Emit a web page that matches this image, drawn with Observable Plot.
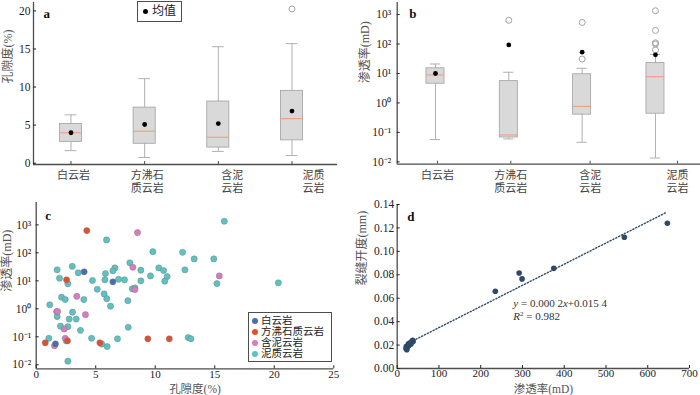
<!DOCTYPE html>
<html><head><meta charset="utf-8">
<script src="https://cdn.jsdelivr.net/npm/d3@7"></script>
<script src="https://cdn.jsdelivr.net/npm/@observablehq/plot@0.6"></script>
<style>
body{margin:0;background:#fff;}
#root{position:relative;width:700px;height:395px;overflow:hidden;font-family:"Liberation Serif","Noto Sans CJK SC",serif;color:#222;}
#root svg text{font-family:"Liberation Serif","Noto Sans CJK SC",serif;}
.lg{position:absolute;border:1px solid #4d4d4d;background:#fff;font-size:10.5px;line-height:11px;box-sizing:border-box;}
.lg .row{display:flex;align-items:center;height:11px;white-space:nowrap;}
.lg .dot{display:inline-block;width:6px;height:6px;border-radius:50%;margin-right:3px;}
</style></head><body><div id="root"></div>
<script>
// ---------- data ----------
const rockTypes = ["白云岩","方沸石质云岩","含泥云岩","泥质云岩"];
const rockTickLabels = ["白云岩","方沸石\n质云岩","含泥\n云岩","泥质\n云岩"];

// panel a: porosity box plot (%)
const porLow    = [1.65, 0.75, 1.55, 1.0];
const porQ1     = [2.8, 2.55, 2.05, 3.0];
const porMedian = [4.0, 4.2, 3.4, 5.85];
const porQ3     = [5.15, 7.3, 8.1, 9.5];
const porHigh   = [6.35, 11.1, 15.3, 15.7];
const porMean   = [4.0, 5.08, 5.2, 6.85];
const porOutType = ["泥质云岩"];
const porOutVal  = [20.25];
const porTicks = [0, 5, 10, 15, 20];

// panel b: permeability box plot (mD)
const permLow    = [0.057, 0.06, 0.046, 0.0135];
const permQ1     = [4.5, 0.067, 0.40, 0.43];
const permMedian = [8.9, 0.082, 0.76, 7.8];
const permQ3     = [15, 5.5, 9.4, 22.5];
const permHigh   = [21, 11, 15, 44];
const permMean   = [10, 93, 53, 43];
const permOutType = ["方沸石质云岩","含泥云岩","含泥云岩","泥质云岩","泥质云岩","泥质云岩","泥质云岩","泥质云岩"];
const permOutVal  = [640, 540, 31, 1350, 290, 110, 100, 63];
const logTicks = [0.01, 0.1, 1, 10, 100, 1000];

// panel c: porosity vs permeability scatter
const dolPor = [4.03, 6.44, 1.62];
const dolPerm = [21, 9.2, 0.056];
const analPor = [4.25, 2.55, 0.76, 2.63, 5.35, 9.38, 11.18];
const analPerm = [625, 10.9, 0.061, 0.072, 0.061, 0.085, 0.085];
const mudPor = [8.51, 8.12, 15.38, 3.41, 8.29, 1.72, 1.80, 4.14, 2.35, 1.54, 2.44];
const mudPerm = [530, 30.6, 15, 2.8, 4.9, 0.8, 0.8, 0.62, 0.19, 0.048, 0.089];
const argPor = [15.8, 5.91, 9.80, 12.3, 13.27, 14.92, 1.76, 3.03, 3.53, 1.96, 2.66, 4.73, 5.82, 6.61, 6.44, 6.92, 7.42, 7.87, 5.77, 5.13, 8.79, 10.3, 10.7, 12.49, 9.6, 11.0, 8.79, 10.8, 15.18, 8.07, 8.29, 20.34, 1.14, 2.13, 2.44, 4.0, 5.71, 5.93, 6.24, 7.7, 1.76, 3.05, 2.77, 3.36, 2.04, 2.66, 3.72, 7.73, 1.06, 2.52, 4.65, 5.51, 5.96, 6.83, 12.77, 13.0, 2.66];
const argPerm = [1350, 290, 110, 105, 61, 61, 24.7, 33, 19.4, 12.4, 7.8, 10.3, 18.2, 29, 22.8, 11.4, 10.9, 44, 10.9, 5.0, 24, 29, 23.4, 24.7, 15, 14.2, 10, 9.7, 8, 5.2, 5.6, 8.5, 1.4, 2.6, 2.15, 2.15, 3.4, 2.3, 1.24, 1.95, 0.53, 0.76, 0.43, 0.43, 0.24, 0.23, 0.17, 0.22, 0.089, 0.072, 0.089, 0.055, 0.045, 0.085, 0.094, 0.085, 0.0135];
const porTicksC = [0, 5, 10, 15, 20, 25];

// panel d: permeability vs fracture aperture
const fracPerm = [21, 22, 23, 24, 26, 27, 29, 31, 33, 35, 37, 38, 235, 292, 299, 375, 544, 647];
const fracAperture = [0.017, 0.019, 0.016, 0.018, 0.019, 0.021, 0.020, 0.022, 0.021, 0.023, 0.024, 0.023, 0.066, 0.0815, 0.0765, 0.0855, 0.112, 0.124];
const trendPerm = [38, 645];
const trendAperture = [0.0237, 0.1333];
const eqText = "y = 0.000 2x+0.015 4";
const r2Text = "R² = 0.982";
const eqPos = [278, 0.0552];
const r2Pos = [278, 0.0442];
const permTicksD = [0, 100, 200, 300, 400, 500, 600, 700];
const apTicksD = [0, 0.02, 0.04, 0.06, 0.08, 0.10, 0.12, 0.14];

// ---------- styles ----------
const FONT = '"Liberation Serif","Noto Sans CJK SC",serif';
const AXIS = "#4d4d4d";
const TXT = "#222";
const LABEL = "#555";
const colDol = "#4a6db0", colAnal = "#e0502c", colMud = "#d77cc0", colArg = "#5cc3c3";
const labelDxA = [2.5, 2.5, 14, 21.5];
const labelDxB = [2, 2, 8, 22];
const style = `font-family:${FONT};font-size:11px;color:${TXT};background:transparent;overflow:visible;`;

const root = document.getElementById("root");
function mount(svg, left, top) {
  svg.style.position = "absolute";
  svg.style.left = left + "px";
  svg.style.top = top + "px";
  root.appendChild(svg);
}
const sup = {"-": "⁻", "0": "⁰", "1": "¹", "2": "²", "3": "³"};
const powFmt = d => "10" + String(Math.round(Math.log10(d))).split("").map(c => sup[c]).join("");

function boxMarks(table, outs, hw, cap) {
  return [
    Plot.ruleX(table, {x: "i", y1: "low", y2: "q1", stroke: "#b0b0b0"}),
    Plot.ruleX(table, {x: "i", y1: "q3", y2: "high", stroke: "#b0b0b0"}),
    Plot.ruleY(table, {y: "low", x1: d => d.i - cap, x2: d => d.i + cap, stroke: "#b0b0b0"}),
    Plot.ruleY(table, {y: "high", x1: d => d.i - cap, x2: d => d.i + cap, stroke: "#b0b0b0"}),
    Plot.rect(table, {x1: d => d.i - hw, x2: d => d.i + hw, y1: "q1", y2: "q3", fill: "#d9d9d9", stroke: "#a0a0a0", strokeWidth: 0.8}),
    Plot.ruleY(table, {y: "med", x1: d => d.i - hw, x2: d => d.i + hw, stroke: "#f2a08a", strokeWidth: 1.2}),
    Plot.dot(outs, {x: "i", y: "v", r: 3, stroke: "#9a9a9a", fill: "none", strokeWidth: 0.9}),
    Plot.dot(table, {x: "i", y: "mean", r: 2.4, fill: "#000"})
  ];
}

// ---------- panel a ----------
const boxA = rockTypes.map((t, i) => ({i, low: porLow[i], q1: porQ1[i], med: porMedian[i], q3: porQ3[i], high: porHigh[i], mean: porMean[i]}));
const outA = porOutType.map((t, k) => ({i: rockTypes.indexOf(t), v: porOutVal[k]}));
const xDomA = [-0.509, 3.618];
const yDomA = [-0.17, 21.1];
const pa = Plot.plot({
  width: 345, height: 195, marginLeft: 33, marginRight: 8, marginTop: 2, marginBottom: 31,
  style,
  x: {domain: xDomA, axis: null},
  y: {domain: yDomA, axis: null},
  marks: [
    ...boxMarks(boxA, outA, 0.15, 0.08),
    Plot.ruleY([yDomA[0]], {stroke: AXIS, strokeWidth: 1.3}),
    Plot.ruleX([xDomA[0]], {stroke: AXIS, strokeWidth: 1.3}),
    Plot.axisY({ticks: porTicks, tickSize: -3, tickPadding: 6, label: null, color: TXT, fontSize: 11.5}),
    Plot.axisX({ticks: [0, 1, 2, 3], tickSize: -3, tickFormat: () => "", label: null, color: AXIS}),
    ...rockTickLabels.map((lab, i) => Plot.text([lab], {x: () => i, text: d => d, frameAnchor: "bottom", dy: 6, dx: labelDxA[i], lineAnchor: "top", lineHeight: 1.15, fill: "#444", fontSize: 11})),
    Plot.text(["孔隙度(%)"], {text: d => d, frameAnchor: "left", rotate: -90, dx: -25, fontSize: 12, fill: LABEL}),
    Plot.text(["a"], {text: d => d, frameAnchor: "top-left", dx: 10, dy: 6, fontWeight: "bold", fontSize: 13, fill: "#111"})
  ]
});
mount(pa, 0, 0);

// ---------- panel b ----------
const boxB = rockTypes.map((t, i) => ({i, low: permLow[i], q1: permQ1[i], med: permMedian[i], q3: permQ3[i], high: permHigh[i], mean: permMean[i]}));
const outB = permOutType.map((t, k) => ({i: rockTypes.indexOf(t), v: permOutVal[k]}));
const xDomB = [-0.522, 3.614];
const yDomB = [10 ** -2.08, 10 ** 3.41];
const pb = Plot.plot({
  width: 350, height: 195, marginLeft: 46.7, marginRight: 0, marginTop: 2, marginBottom: 31.3,
  style,
  x: {domain: xDomB, axis: null},
  y: {type: "log", domain: yDomB, axis: null},
  marks: [
    ...boxMarks(boxB, outB, 0.123, 0.07),
    Plot.ruleY([yDomB[0]], {stroke: AXIS, strokeWidth: 1.3}),
    Plot.ruleX([xDomB[0]], {stroke: AXIS, strokeWidth: 1.3}),
    Plot.axisY({ticks: logTicks, tickFormat: powFmt, tickSize: -3, tickPadding: 9, label: null, color: TXT, fontSize: 11.5}),
    ...rockTypes.map((t, i) => Plot.axisX({ticks: [i], tickSize: -3, tickFormat: () => "", label: null, dx: labelDxB[i], color: AXIS})),
    ...rockTickLabels.map((lab, i) => Plot.text([lab], {x: () => i, text: d => d, frameAnchor: "bottom", dy: 6, dx: labelDxB[i], lineAnchor: "top", lineHeight: 1.15, fill: "#444", fontSize: 11})),
    Plot.text(["渗透率(mD)"], {text: d => d, frameAnchor: "left", rotate: -90, dx: -32, fontSize: 12, fill: LABEL}),
    Plot.text(["b"], {text: d => d, frameAnchor: "top-left", dx: 12, dy: 6, fontWeight: "bold", fontSize: 13, fill: "#111"})
  ]
});
mount(pb, 350, 0);

// ---------- panel c ----------
const toPts = (xs, ys) => xs.map((x, k) => ({x, y: ys[k]}));
const xDomC = [0, 25];
const yDomC = [10 ** -2.143, 10 ** 3.8];
const dotStyle = {x: "x", y: "y", r: 3.1, stroke: "#777", strokeOpacity: 0.55, strokeWidth: 0.8};
const pc = Plot.plot({
  width: 345, height: 200, marginLeft: 35.7, marginRight: 11.7, marginTop: 7, marginBottom: 26.7,
  style,
  x: {domain: xDomC, axis: null},
  y: {type: "log", domain: yDomC, axis: null},
  marks: [
    Plot.dot(toPts(argPor, argPerm), {...dotStyle, fill: colArg}),
    Plot.dot(toPts(mudPor, mudPerm), {...dotStyle, fill: colMud}),
    Plot.dot(toPts(analPor, analPerm), {...dotStyle, fill: colAnal}),
    Plot.dot(toPts(dolPor, dolPerm), {...dotStyle, fill: colDol}),
    Plot.ruleY([yDomC[0]], {stroke: AXIS, strokeWidth: 1.3}),
    Plot.ruleX([xDomC[0]], {stroke: AXIS, strokeWidth: 1.3}),
    Plot.axisY({ticks: logTicks, tickFormat: powFmt, tickSize: -3, tickPadding: 8, label: null, color: TXT, fontSize: 11.5}),
    Plot.axisX({ticks: porTicksC, tickSize: -3, tickPadding: 4, label: null, color: TXT, fontSize: 11}),
    Plot.text(["孔隙度(%)"], {text: d => d, frameAnchor: "bottom", dx: 10, dy: 24, lineAnchor: "bottom", fontSize: 11.5, fill: LABEL}),
    Plot.text(["渗透率(mD)"], {text: d => d, frameAnchor: "left", rotate: -90, dx: -29, dy: 6, fontSize: 12, fill: LABEL}),
    Plot.text(["c"], {text: d => d, frameAnchor: "top-left", dx: 9, dy: 8, fontWeight: "bold", fontSize: 13, fill: "#111"})
  ]
});
mount(pc, 0, 195);

// ---------- panel d ----------
const xDomD = [0, 700];
const yDomD = [0, 0.14];
const pd = Plot.plot({
  width: 350, height: 200, marginLeft: 46.7, marginRight: 11, marginTop: 9, marginBottom: 27,
  style,
  x: {domain: xDomD, axis: null},
  y: {domain: yDomD, axis: null},
  marks: [
    Plot.line(toPts(trendPerm, trendAperture), {x: "x", y: "y", stroke: "#2e4a68", strokeWidth: 1.4, strokeDasharray: "1.2,2"}),
    Plot.dot(toPts(fracPerm, fracAperture), {x: "x", y: "y", r: 2.8, fill: "#2e4a68"}),
    Plot.ruleY([yDomD[0]], {stroke: AXIS, strokeWidth: 1.3}),
    Plot.ruleX([xDomD[0]], {stroke: AXIS, strokeWidth: 1.3}),
    Plot.axisY({ticks: apTicksD, tickFormat: d3.format(".2f"), tickSize: -3, tickPadding: 6, label: null, color: TXT, fontSize: 11.5}),
    Plot.axisX({ticks: permTicksD, tickSize: -3, tickPadding: 4, label: null, color: TXT, fontSize: 11}),
    Plot.text([eqText], {x: () => eqPos[0], y: () => eqPos[1], text: d => d, textAnchor: "start", fontSize: 11, fill: "#333"}),
    Plot.text([r2Text], {x: () => r2Pos[0], y: () => r2Pos[1], text: d => d, textAnchor: "start", fontSize: 11, fill: "#333"}),
    Plot.text(["渗透率(mD)"], {text: d => d, frameAnchor: "bottom", dy: 24, lineAnchor: "bottom", fontSize: 11.5, fill: LABEL}),
    Plot.text(["裂缝开度(mm)"], {text: d => d, frameAnchor: "left", rotate: -90, dx: -35, dy: -1, fontSize: 12, fill: LABEL}),
    Plot.text(["d"], {text: d => d, frameAnchor: "top-left", dx: 10, dy: 7, fontWeight: "bold", fontSize: 13, fill: "#111"})
  ]
});
mount(pd, 350, 195);
pd.querySelectorAll("text").forEach(t => {
  if (t.textContent === eqText) t.innerHTML = '<tspan font-style="italic">y</tspan> = 0.000 2<tspan font-style="italic">x</tspan>+0.015 4';
  else if (t.textContent === r2Text) t.innerHTML = '<tspan font-style="italic">R</tspan><tspan font-size="7" dy="-4">2</tspan><tspan dy="4"> = 0.982</tspan>';
});

// ---------- legends ----------
const lgA = document.createElement("div");
lgA.className = "lg";
Object.assign(lgA.style, {left: "137px", top: "1px", width: "45px", height: "21px", fontSize: "12px", display: "flex", alignItems: "center", justifyContent: "center"});
lgA.innerHTML = '<span style="display:inline-block;width:5px;height:5px;border-radius:50%;background:#000;margin-right:4px"></span>均值';
root.appendChild(lgA);

const lgC = document.createElement("div");
lgC.className = "lg";
Object.assign(lgC.style, {left: "248px", top: "312px", width: "84px", height: "50px", padding: "2px 0 0 3px"});
const legendItems = [["白云岩", colDol], ["方沸石质云岩", colAnal], ["含泥云岩", colMud], ["泥质云岩", colArg]];
lgC.innerHTML = legendItems.map(([n, c]) => `<div class="row"><span class="dot" style="background:${c}"></span>${n}</div>`).join("");
root.appendChild(lgC);
</script>
</body></html>
